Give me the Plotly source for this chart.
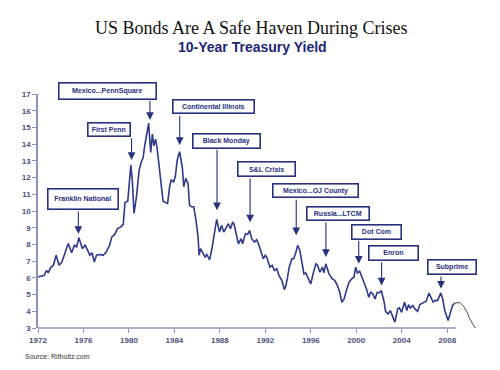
import plotly.graph_objects as go

# ---------------- data ----------------
years_main = [
    1972.00, 1972.30, 1972.55, 1972.75, 1972.90, 1973.10, 1973.35, 1973.60, 1973.85, 1974.10,
    1974.40, 1974.66, 1974.96, 1975.20, 1975.40, 1975.60, 1975.90, 1976.15, 1976.40, 1976.56,
    1976.75, 1976.95, 1977.15, 1977.45, 1977.73, 1978.00, 1978.30, 1978.50, 1978.75, 1979.00,
    1979.30, 1979.50, 1979.65, 1979.90, 1980.05, 1980.17, 1980.30, 1980.45, 1980.66, 1980.90,
    1981.10, 1981.25, 1981.40, 1981.55, 1981.74, 1981.82, 1981.92, 1982.06, 1982.20, 1982.35,
    1982.47, 1982.64, 1982.85, 1983.00, 1983.20, 1983.40, 1983.58, 1983.72, 1983.93, 1984.08,
    1984.25, 1984.46, 1984.70, 1984.82, 1985.00, 1985.20, 1985.33, 1985.50, 1985.70, 1985.90,
    1986.08, 1986.18, 1986.30, 1986.50, 1986.70, 1986.85, 1987.10, 1987.30, 1987.50, 1987.72,
    1987.97, 1988.15, 1988.34, 1988.55, 1988.75, 1988.93, 1989.13, 1989.25, 1989.43, 1989.63,
    1989.87, 1990.00, 1990.25, 1990.45, 1990.62, 1990.80, 1991.04, 1991.24, 1991.40, 1991.62,
    1991.82, 1992.00, 1992.15, 1992.40, 1992.60, 1992.80, 1993.00, 1993.20, 1993.46, 1993.67,
    1993.80, 1993.96, 1994.10, 1994.34, 1994.50, 1994.70, 1994.84, 1995.04, 1995.20, 1995.40,
    1995.55, 1995.80, 1996.00, 1996.20, 1996.45, 1996.60, 1996.80, 1997.03, 1997.15, 1997.32,
    1997.45, 1997.60, 1997.90, 1998.10, 1998.35, 1998.55, 1998.73, 1998.93, 1999.13, 1999.37,
    1999.60, 1999.80, 1999.95, 2000.10, 2000.30, 2000.50, 2000.68, 2000.90, 2001.10, 2001.27,
    2001.45, 2001.65, 2001.85, 2002.05, 2002.20, 2002.44, 2002.58, 2002.80, 2003.00, 2003.20,
    2003.40, 2003.65, 2003.80, 2003.99, 2004.25, 2004.45, 2004.60, 2004.75, 2004.98, 2005.16,
    2005.40, 2005.60, 2005.78, 2005.95, 2006.15, 2006.40, 2006.55, 2006.76, 2006.95, 2007.15,
    2007.44, 2007.60, 2007.79, 2007.95, 2008.08, 2008.30, 2008.47, 2008.67,
]
yield_main = [
    6.05, 6.10, 6.15, 6.45, 6.30, 6.60, 6.75, 7.35, 6.75, 6.95,
    7.50, 8.05, 7.50, 7.95, 7.85, 8.40, 7.75, 7.95, 7.60, 7.35,
    7.50, 6.95, 7.35, 7.40, 7.35, 7.55, 7.95, 8.45, 8.60, 8.95,
    9.05, 9.20, 10.50, 10.60, 11.80, 12.75, 11.80, 9.85, 10.85, 12.45,
    12.95, 13.20, 13.95, 14.65, 15.25, 14.40, 13.50, 14.60, 13.90, 14.30,
    13.80, 12.80, 11.45, 10.60, 10.50, 10.45, 11.45, 11.85, 11.75, 12.05,
    13.05, 13.55, 12.60, 11.45, 11.95, 11.65, 10.35, 10.25, 10.25, 9.45,
    8.45, 7.35, 7.75, 7.45, 7.25, 7.40, 7.08, 7.74, 8.64, 9.50,
    8.74, 9.14, 8.74, 9.04, 9.24, 8.94, 9.34, 9.20, 8.54, 8.04,
    8.34, 8.04, 8.64, 8.60, 8.84, 8.34, 8.14, 8.28, 8.04, 7.54,
    7.14, 7.35, 7.20, 6.64, 6.75, 6.44, 6.55, 6.14, 5.84, 5.30,
    5.50, 6.04, 6.64, 7.14, 7.15, 7.54, 7.94, 7.64, 6.94, 6.24,
    6.30, 5.94, 5.64, 6.24, 6.84, 6.75, 6.34, 6.64, 6.30, 6.84,
    6.55, 6.24, 5.94, 5.85, 5.54, 5.14, 4.54, 4.74, 5.24, 5.74,
    5.94, 6.04, 6.64, 6.30, 6.40, 6.04, 5.64, 5.34, 4.84, 5.14,
    5.05, 4.74, 5.14, 5.10, 5.25, 4.60, 4.00, 3.84, 4.04, 3.74,
    3.35, 4.15, 4.20, 3.94, 4.55, 4.05, 4.40, 4.20, 4.34, 4.14,
    4.00, 4.40, 4.45, 4.54, 4.60, 5.09, 4.90, 4.55, 4.65, 4.64,
    5.09, 4.75, 4.05, 3.75, 3.45, 3.95, 4.35, 4.49,
]
years_tail = [2008.67, 2008.90, 2009.11, 2009.30, 2009.50, 2009.75, 2009.99, 2010.28, 2010.58]
yield_tail = [4.49, 4.52, 4.52, 4.40, 4.25, 3.95, 3.55, 3.20, 2.90]

x_ticks = [1972, 1976, 1980, 1984, 1988, 1992, 1996, 2000, 2004, 2008]
y_ticks = list(range(3, 18))

events = ["Franklin National", "Mexico...PennSquare", "First Penn", "Continental Illinois",
          "Black Monday", "S&L Crisis", "Mexico...OJ County", "Russia...LTCM", "Dot Com",
          "Enron", "Subprime"]
event_year = [1975.55, 1981.85, 1980.23, 1984.47, 1987.75, 1990.66, 1994.72, 1997.33,
              2000.22, 2002.23, 2007.46]
event_yield = [8.62, 15.45, 13.05, 13.95, 10.05, 9.32, 8.55, 7.25, 6.85, 5.55, 5.35]

# ---------------- layout geometry (screen pixels) ----------------
W, H = 500, 370
OFF = 8                      # page body margin of the html page
PL, PR, PT, PB = 38, 479, 94, 328   # plot area on screen
X0, X1 = 1972, 2010.8
Y0, Y1 = 3, 17

def py_to_val(py):
    return Y1 - (py - PT) / (PB - PT) * (Y1 - Y0)

def paper_x(px):
    return (px - PL) / (PR - PL)

def paper_y(py):
    return (PB - py) / (PB - PT)

# box geometry in pixels: (x_left, x_right, y_top, y_bottom)
boxes_px = [
    (47.7, 119.0, 188.3, 210.0),
    (58.3, 156.7, 81.7, 99.3),
    (87.3, 130.7, 121.7, 136.7),
    (172.7, 255.0, 99.3, 114.3),
    (192.7, 261.0, 132.7, 148.3),
    (237.0, 296.0, 161.0, 177.0),
    (272.3, 359.3, 183.3, 198.3),
    (306.0, 369.3, 206.0, 221.0),
    (351.0, 401.7, 224.0, 239.3),
    (368.3, 419.0, 245.0, 260.7),
    (426.7, 476.7, 259.3, 275.0),
]

NAVY = "#27317f"
LINE = "#2f3a8a"
AXIS = "#8d92b8"
TICKC = "#4b5078"

fig = go.Figure()
fig.add_trace(go.Scatter(x=years_main, y=yield_main, mode="lines",
                         line=dict(color=LINE, width=1.6), hoverinfo="skip"))
fig.add_trace(go.Scatter(x=years_tail, y=yield_tail, mode="lines",
                         line=dict(color="#4a4a4a", width=1), hoverinfo="skip"))

annotations = []
for name, ex, ey, (bx0, bx1, by0, by1) in zip(events, event_year, event_yield, boxes_px):
    annotations.append(dict(
        x=ex, y=ey, xref="x", yref="y",
        ax=ex, ay=py_to_val(by1), axref="x", ayref="y",
        text="", showarrow=True, arrowhead=2, arrowsize=1.4, arrowwidth=1.1,
        arrowcolor=NAVY, standoff=0, startstandoff=0))
    annotations.append(dict(
        x=paper_x((bx0 + bx1) / 2), y=paper_y((by0 + by1) / 2),
        xref="paper", yref="paper", xanchor="center", yanchor="middle",
        text="<b>" + name.replace("&", "&amp;") + "</b>", showarrow=False,
        width=bx1 - bx0 - 3, height=by1 - by0 - 3, borderpad=0,
        bordercolor=NAVY, borderwidth=1.6, bgcolor="white",
        font=dict(family="Liberation Sans, Arial", size=7, color=NAVY)))

annotations.append(dict(
    x=paper_x(251), y=paper_y(28), xref="paper", yref="paper", xanchor="center", yanchor="middle",
    text="US Bonds Are A Safe Haven During Crises", showarrow=False,
    font=dict(family="Liberation Serif, Times New Roman", size=18, color="#111111")))
annotations.append(dict(
    x=paper_x(252), y=paper_y(46.5), xref="paper", yref="paper", xanchor="center", yanchor="middle",
    text="<b>10-Year Treasury Yield</b>", showarrow=False,
    font=dict(family="Liberation Sans, Arial", size=14, color="#1d2674")))
annotations.append(dict(
    x=paper_x(23), y=paper_y(356.5), xref="paper", yref="paper", xanchor="left", yanchor="middle",
    text="Source: Ritholtz.com", showarrow=False,
    font=dict(family="Liberation Sans, Arial", size=7, color="#333333")))

shapes = [dict(type="line", xref="x", yref="paper", x0=1972, x1=2008.8, y0=0, y1=0,
               line=dict(color=AXIS, width=1.5))]

fig.update_layout(
    width=W, height=H,
    margin=dict(l=PL - OFF, r=W + OFF - PR, t=PT - OFF, b=H + OFF - PB),
    paper_bgcolor="white", plot_bgcolor="white",
    showlegend=False,
    annotations=annotations,
    shapes=shapes,
    xaxis=dict(range=[X0, X1], tickvals=x_ticks, ticktext=[f"<b>{v}</b>" for v in x_ticks],
               showgrid=False, zeroline=False, showline=False,
               ticks="outside", ticklen=4, tickcolor=AXIS, tickwidth=1,
               tickfont=dict(family="Liberation Sans, Arial", size=8, color=TICKC)),
    yaxis=dict(range=[Y0, Y1], tickvals=y_ticks, ticktext=[f"<b>{v}</b>" for v in y_ticks],
               showgrid=False, zeroline=False, showline=True, linecolor=AXIS, linewidth=1.5,
               ticks="outside", ticklen=4, tickcolor=AXIS, tickwidth=1,
               tickfont=dict(family="Liberation Sans, Arial", size=8, color=TICKC)),
)

fig.write_html("out.html")
